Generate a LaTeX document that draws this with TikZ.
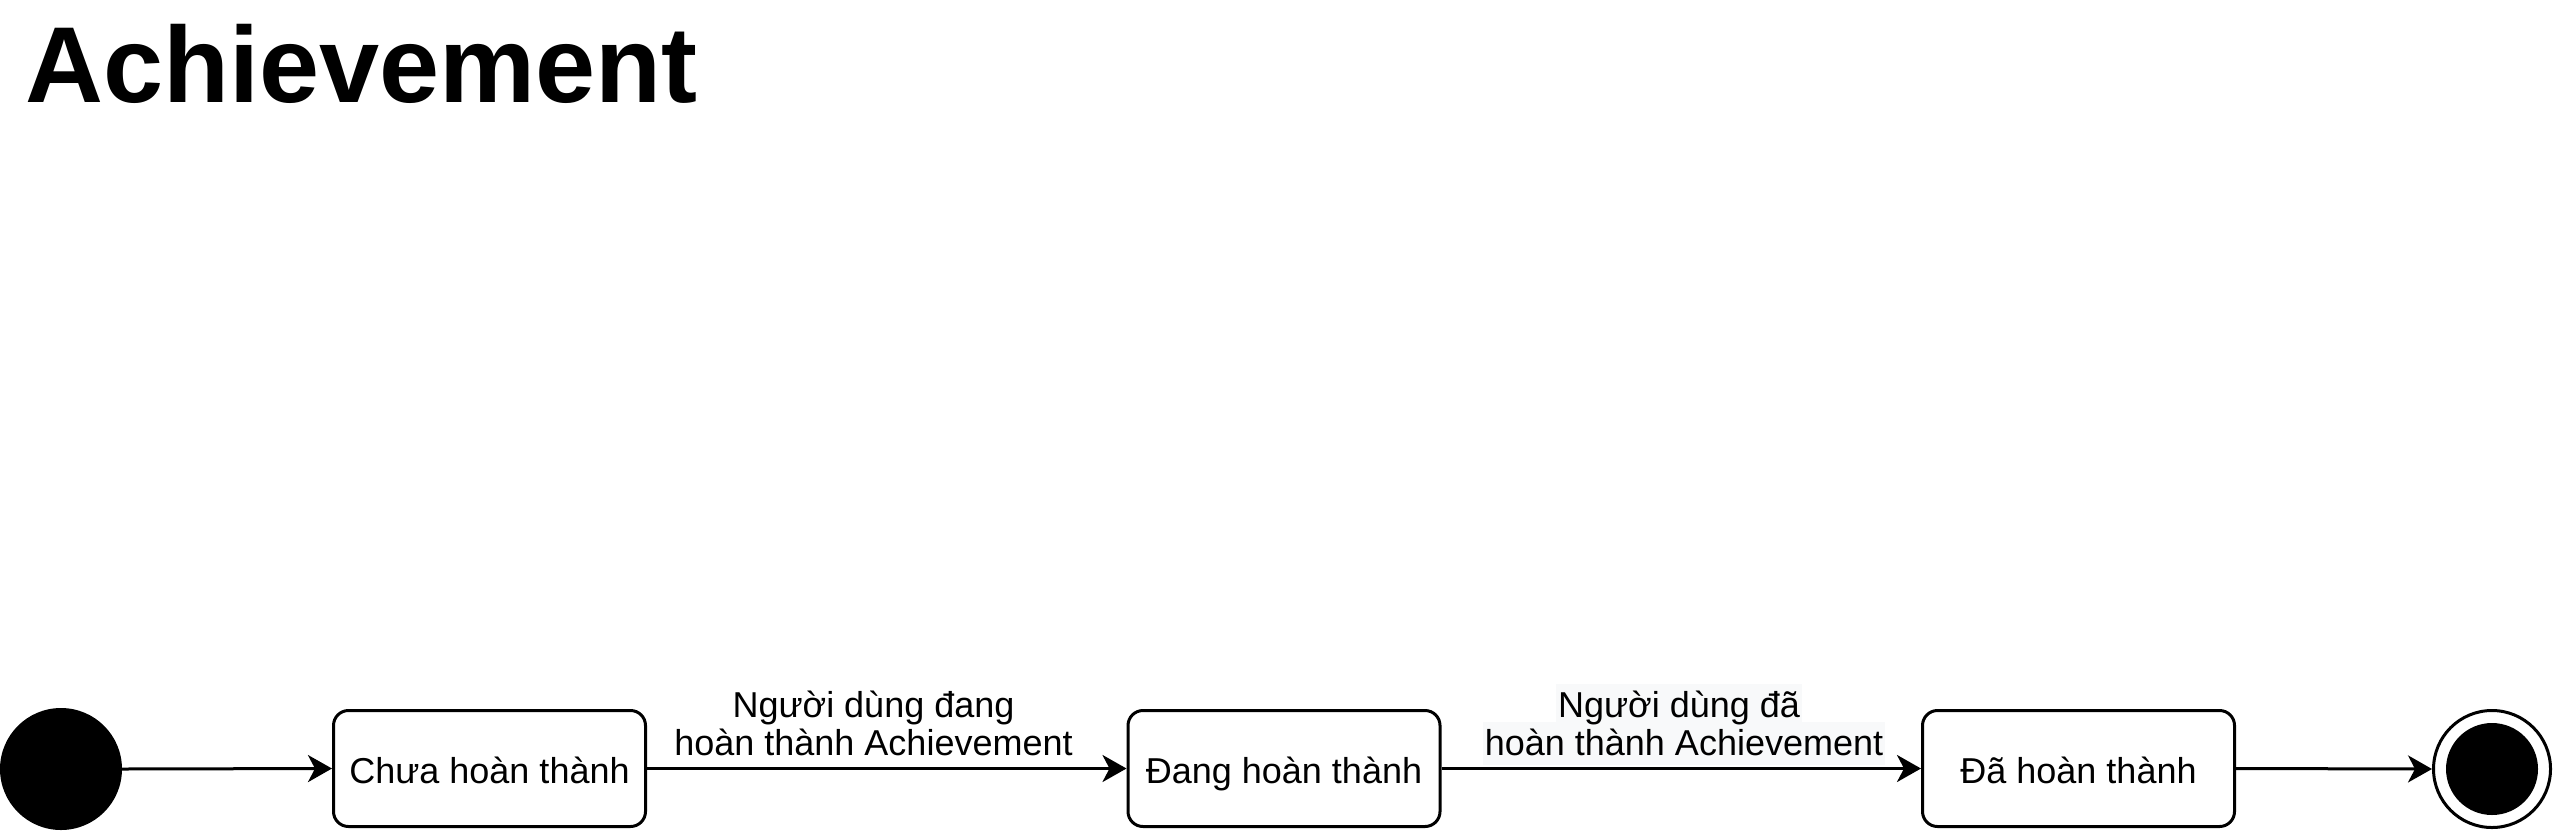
\documentclass[tikz,border=0pt]{standalone}
\usepackage{fontspec}
\setmainfont{Liberation Sans}
\usetikzlibrary{arrows.meta}
\definecolor{lblbg}{RGB}{248,249,250}
\pgfdeclarelayer{bg}
\pgfsetlayers{bg,main}
\begin{document}
\begin{tikzpicture}[x=1pt,y=1pt,
  state/.style={draw,line width=3pt,rounded corners=15pt,minimum width=312pt,minimum height=116pt,inner sep=0pt,text height=36pt,text depth=7pt,font=\fontsize{36}{41}\selectfont},
  conn/.style={line width=3pt,-{Stealth[length=24pt,width=27pt,inset=7pt]}},
  lbl/.style={anchor=base,inner xsep=2pt,inner ysep=1pt,text height=32pt,text depth=9pt,font=\fontsize{36}{41}\selectfont}]
\useasboundingbox (0,0) rectangle (2553,-831);
\node[anchor=base west,font=\fontsize{108}{120}\selectfont\bfseries,inner sep=0pt] (title) at (25,-102) {Achievement};
\node[circle,fill=black,draw=black,line width=2pt,minimum size=120pt,inner sep=0pt] (init) at (61,-769) {};
\node[state] (s1) at (489.5,-768.5) {Chưa hoàn thành};
\node[state] (s2) at (1284,-768.5) {Đang hoàn thành};
\node[state] (s3) at (2078.5,-768.5) {Đã hoàn thành};
\node[circle,draw=black,line width=3pt,minimum size=117pt,inner sep=0pt] (fin) at (2492,-769) {};
\node[circle,fill=black,minimum size=92pt,inner sep=0pt] (finin) at (fin.center) {};
\draw[conn] (init.east) -- (s1.west);
\draw[conn] (s1.east) -- (s2.west);
\draw[conn] (s2.east) -- (s3.west);
\draw[conn] (s3.east) -- (fin.west);
\node[lbl] (l1a) at (873.5,-717) {Người dùng đang};
\node[lbl] (l1b) at (873.5,-755) {hoàn thành Achievement};
\node[lbl] (l2a) at (1679,-717) {Người dùng đã\ };
\node[lbl] (l2b) at (1684,-755) {hoàn thành Achievement};
\begin{pgfonlayer}{bg}
\fill[lblbg] (l2a.south west) rectangle (l2a.north east);
\fill[lblbg] (l2b.south west) rectangle (l2b.north east);
\end{pgfonlayer}
\end{tikzpicture}
\end{document}
